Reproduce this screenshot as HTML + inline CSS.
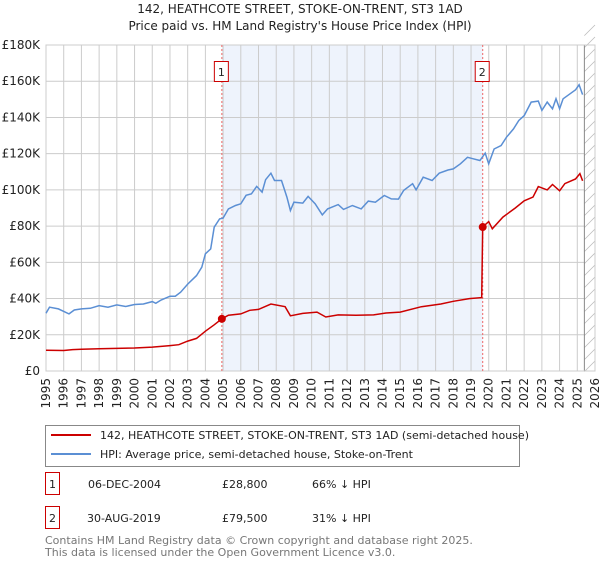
<!DOCTYPE html>
<html><head><meta charset="utf-8"><style>
body{margin:0;background:#fff;font-family:"Liberation Sans","DejaVu Sans",sans-serif;}
svg text{font-family:"DejaVu Sans","Liberation Sans",sans-serif;}
</style></head><body>
<svg id="c" width="600" height="560" xmlns="http://www.w3.org/2000/svg">
<text x="300" y="13" text-anchor="middle" font-size="12" fill="#222">142, HEATHCOTE STREET, STOKE-ON-TRENT, ST3 1AD</text>
<text x="300" y="30" text-anchor="middle" font-size="12" fill="#222">Price paid vs. HM Land Registry's House Price Index (HPI)</text>
<g id="plot"></g>
<g>
<rect x="45.5" y="425.5" width="474" height="41" fill="#fff" stroke="#888"/>
<line x1="51" y1="435" x2="91" y2="435" stroke="#cc0000" stroke-width="2"/>
<text x="100" y="439" font-size="11" fill="#222">142, HEATHCOTE STREET, STOKE-ON-TRENT, ST3 1AD (semi-detached house)</text>
<line x1="51" y1="454" x2="91" y2="454" stroke="#5b8fd4" stroke-width="2"/>
<text x="100" y="458" font-size="11" fill="#222">HPI: Average price, semi-detached house, Stoke-on-Trent</text>
</g>
<g font-size="11" fill="#222">
<rect x="45.5" y="472.5" width="14" height="22" fill="none" stroke="#cc0000"/>
<text x="52.5" y="488" text-anchor="middle">1</text>
<text x="88" y="488">06-DEC-2004</text><text x="222" y="488">£28,800</text><text x="312" y="488">66% ↓ HPI</text>
<rect x="45.5" y="506.5" width="14" height="22" fill="none" stroke="#cc0000"/>
<text x="52.5" y="522" text-anchor="middle">2</text>
<text x="87" y="522">30-AUG-2019</text><text x="222" y="522">£79,500</text><text x="312" y="522">31% ↓ HPI</text>
</g>
<text x="45" y="544" font-size="11" fill="#777">Contains HM Land Registry data © Crown copyright and database right 2025.</text>
<text x="45" y="556" font-size="11" fill="#777">This data is licensed under the Open Government Licence v3.0.</text>
</svg>
<script>
const hpiYears=[1995,1995.2,1995.7,1996.3,1996.6,1997,1997.5,1998,1998.5,1999,1999.5,2000,2000.5,2001,2001.2,2001.5,2002,2002.3,2002.6,2003,2003.5,2003.8,2004,2004.3,2004.5,2004.8,2005,2005.3,2005.7,2006,2006.3,2006.6,2006.9,2007.2,2007.4,2007.7,2007.9,2008.3,2008.6,2008.8,2009,2009.5,2009.8,2010.2,2010.6,2010.9,2011.5,2011.8,2012.3,2012.8,2013.2,2013.6,2014.1,2014.5,2014.9,2015.2,2015.7,2015.9,2016.3,2016.8,2017.2,2017.7,2018,2018.4,2018.8,2019.1,2019.5,2019.8,2020,2020.3,2020.7,2021,2021.4,2021.7,2022,2022.4,2022.8,2023,2023.3,2023.6,2023.8,2024,2024.2,2024.6,2024.9,2025.1,2025.3];
const hpiValues=[31.9,35.2,34.3,31.5,33.7,34.3,34.6,36.1,35.2,36.5,35.6,36.7,37,38.3,37.4,39.2,41.3,41.3,43.5,48,52.7,57.3,64.7,67.4,79.4,84,84.4,89.5,91.4,92.3,97,97.8,101.9,98.8,105.6,109.2,105.2,105.2,96,88.6,93.2,92.7,96.4,92.3,86.2,89.5,91.9,89.2,91.4,89.5,93.8,93.2,96.9,95,94.9,99.7,103.4,100,107,105.2,109.2,111,111.6,114.4,118,117.2,116.2,120.3,114.4,122.6,124.5,129.1,133.7,138.3,141,148.5,149,143.9,148.5,144.8,150.3,144.8,150.3,153.1,155.2,158,152.6];
const priceYears=[1995,1996,1996.5,1997,1998,1999,2000,2001,2002,2002.5,2003,2003.5,2004,2004.5,2004.93,2005.3,2006,2006.5,2007,2007.7,2008.5,2008.8,2009.5,2010.3,2010.8,2011.5,2012.5,2013.5,2014.2,2015,2016.2,2017.3,2018,2018.9,2019.6,2019.66,2020,2020.2,2020.8,2021.5,2022,2022.5,2022.8,2023.3,2023.6,2024,2024.3,2024.9,2025.15,2025.3];
const priceValues=[11.5,11.3,11.8,12,12.3,12.5,12.7,13.2,14,14.5,16.5,18,22,25.5,28.8,30.8,31.5,33.5,34,37,35.5,30.5,31.8,32.5,29.8,31,30.8,31,32,32.5,35.5,37,38.5,40,40.5,79.5,82.5,78.5,85,90,94,96,101.8,100,103,99.5,103.5,106,109,105];
const saleYears=[2004.93,2019.66];
const saleValues=[28.8,79.5];
const saleLabels=["1","2"];
const yTicks=[0,20,40,60,80,100,120,140,160,180];
const yTickLabels=["£0","£20K","£40K","£60K","£80K","£100K","£120K","£140K","£160K","£180K"];
const xTicks=[1995,1996,1997,1998,1999,2000,2001,2002,2003,2004,2005,2006,2007,2008,2009,2010,2011,2012,2013,2014,2015,2016,2017,2018,2019,2020,2021,2022,2023,2024,2025,2026];

const NS="http://www.w3.org/2000/svg";
const L=46,R=595,T=45,B=371;
const X=v=>L+(v-1995)/(2026-1995)*(R-L);
const Y=v=>B-v/180*(B-T);
const g=document.getElementById('plot');
function mk(t,a){const e=document.createElementNS(NS,t);for(const k in a)e.setAttribute(k,a[k]);g.appendChild(e);return e;}
let e;
e=mk('rect',{x:X(saleYears[0]),y:T,width:X(saleYears[1])-X(saleYears[0]),height:B-T,fill:'#eef3fc'});


yTicks.forEach((v,i)=>{
 e=mk('line',{x1:L,x2:R,y1:Y(v),y2:Y(v),stroke:'#ccc','stroke-width':1});
 
 
 e=mk('text',{x:L-6,y:Y(v)+4,'text-anchor':'end','font-size':12,fill:'#222'});e.textContent=yTickLabels[i];
 
 
});
xTicks.forEach(v=>{
 e=mk('line',{x1:X(v),x2:X(v),y1:T,y2:B,stroke:'#ccc','stroke-width':1});
 
 
 e=mk('text',{x:0,y:0,'text-anchor':'end','font-size':12,fill:'#222',transform:`translate(${X(v)+4},${B+7}) rotate(-90)`});e.textContent=v;
 
 
});
const hx=X(2025.4);
e=mk('rect',{x:hx,y:T,width:R-hx,height:B-T,fill:'#fff',stroke:'none'});


for(let yy=T-20;yy<B;yy+=12){mk('line',{x1:hx,y1:yy+(R-hx),x2:R,y2:yy,stroke:'#bbb','stroke-width':0.8});}
mk('line',{x1:hx,x2:hx,y1:T,y2:B,stroke:'#888','stroke-width':1});
mk('rect',{x:L,y:T,width:R-L,height:B-T,fill:'none',stroke:'#ccc'});
saleYears.forEach((v,i)=>{
 e=mk('line',{x1:X(v),x2:X(v),y1:T,y2:B,stroke:'#e66','stroke-width':1,'stroke-dasharray':'2,2'});
 
 
 e=mk('rect',{x:X(v)-7.5,y:61.5,width:14,height:20,fill:'#fff',stroke:'#cc0000'});
 
 
 e=mk('text',{x:X(v)-0.5,y:76,'text-anchor':'middle','font-size':11,fill:'#222'});e.textContent=saleLabels[i];
});
const path=(xs,vs)=>xs.map((x,i)=>(i?'L':'M')+X(x).toFixed(1)+','+Y(vs[i]).toFixed(1)).join('');
e=mk('path',{d:path(hpiYears,hpiValues),fill:'none',stroke:'#5b8fd4','stroke-width':1.5});


e=mk('path',{d:path(priceYears,priceValues),fill:'none',stroke:'#cc0000','stroke-width':1.5});


saleYears.forEach((v,i)=>{
 e=mk('circle',{cx:X(v),cy:Y(saleValues[i]),r:4,fill:'#cc0000'});
 
 
});
</script>
</body></html>
